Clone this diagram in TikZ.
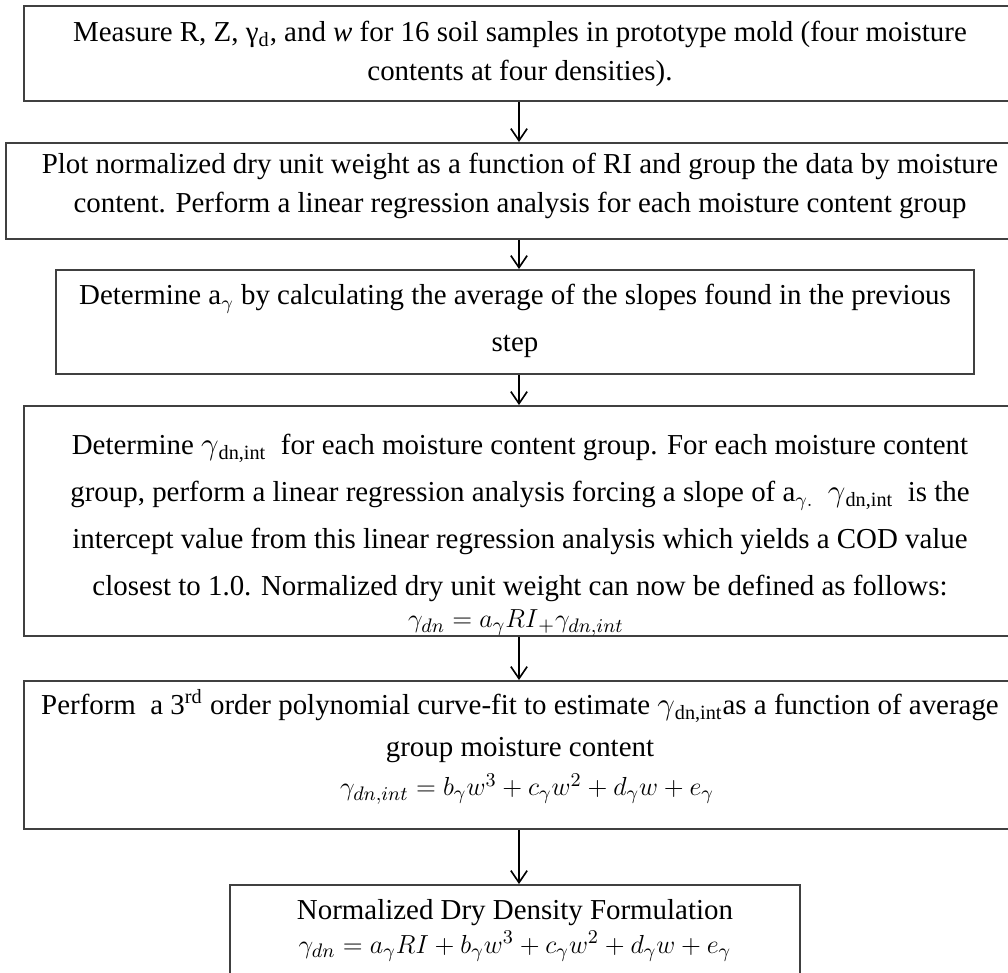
\documentclass[tikz,border=0pt]{standalone}
\usepackage{fontspec}
\setmainfont{Liberation Serif}
\usetikzlibrary{arrows.meta,fit}
\begin{document}
\begin{tikzpicture}[x=0.46pt,y=-0.46pt,
  box/.style={draw=black!75, line width=0.9pt, inner sep=0pt},
  txt/.style={align=center, inner sep=0pt, font=\fontsize{13.3}{17.94}\selectfont},
  txtw/.style={align=center, inner sep=0pt, font=\fontsize{13.3}{21.6}\selectfont},
  txtm/.style={align=center, inner sep=0pt, font=\fontsize{13.3}{19.3}\selectfont},
  one/.style={inner sep=0pt, font=\fontsize{13.3}{16}\selectfont},
  eq/.style={inner sep=0pt, font=\fontsize{12.2}{14}\selectfont},
  arr/.style={-{Straight Barb[length=5.5pt,width=7.5pt]}, line width=0.75pt}]
\useasboundingbox (0,0) rectangle (1008,973);
\clip (0,0) rectangle (1008,973);
\coordinate (ax) at (519,0);
% box corners
\coordinate (b1a) at (24,6);   \coordinate (b1b) at (1016,101);
\coordinate (b2a) at (6,143);  \coordinate (b2b) at (1034,239);
\coordinate (b3a) at (56,270); \coordinate (b3b) at (974,374);
\coordinate (b4a) at (24,406); \coordinate (b4b) at (1016,636);
\coordinate (b5a) at (24,681); \coordinate (b5b) at (1016,829);
\coordinate (b6a) at (230,885);\coordinate (b6b) at (800,1010);
% boxes
\node[box, fit=(b1a)(b1b)] (b1) {};
\node[box, fit=(b2a)(b2b)] (b2) {};
\node[box, fit=(b3a)(b3b)] (b3) {};
\node[box, fit=(b4a)(b4b)] (b4) {};
\node[box, fit=(b5a)(b5b)] (b5) {};
\node[box, fit=(b6a)(b6b)] (b6) {};
% texts
\node[txt] (t1) at (520,54) {Measure R, Z, γ\textsubscript{d}, and \textit{w} for 16 soil samples in prototype mold (four moisture\\contents at four densities).};
\node[txt] (t2) at (520,186) {Plot normalized dry unit weight as a function of RI and group the data by moisture\\content. Perform a linear regression analysis for each moisture content group};
\node[txtw] (t3) at (515,321) {Determine a$_{\gamma}$ by calculating the average of the slopes found in the previous\\step};
\node[txtw] (t4) at (520,518) {Determine $\gamma$\textsubscript{dn,int}\ \ for each moisture content group. For each moisture content\\group, perform a linear regression analysis forcing a slope of a$_{\gamma.}$\ \ $\gamma$\textsubscript{dn,int}\ \ is the\\intercept value from this linear regression analysis which yields a COD value\\closest to 1.0. Normalized dry unit weight can now be defined as follows:};
\node[eq] (e4) at (516,623) {$\gamma_{dn} = a_{\gamma}RI{}_{+}\gamma_{dn,int}$};
\node[txtm] (t5) at (520,726) {Perform\ \ a 3\textsuperscript{rd} order polynomial curve-fit to estimate $\gamma$\textsubscript{dn,int}as a function of average\\group moisture content};
\node[eq] (e5) at (527,789) {$\gamma_{dn,int} = b_{\gamma}w^{3} + c_{\gamma}w^{2} + d_{\gamma}w + e_{\gamma}$};
\node[one] (t6) at (515,913) {Normalized Dry Density Formulation};
\node[eq] (e6) at (515,946) {$\gamma_{dn} = a_{\gamma}RI + b_{\gamma}w^{3} + c_{\gamma}w^{2} + d_{\gamma}w + e_{\gamma}$};
% arrows
\draw[arr] (b1.south -| ax) -- (b2.north -| ax);
\draw[arr] (b2.south -| ax) -- (b3.north -| ax);
\draw[arr] (b3.south -| ax) -- (b4.north -| ax);
\draw[arr] (b4.south -| ax) -- (b5.north -| ax);
\draw[arr] (b5.south -| ax) -- (b6.north -| ax);
\end{tikzpicture}
\end{document}
